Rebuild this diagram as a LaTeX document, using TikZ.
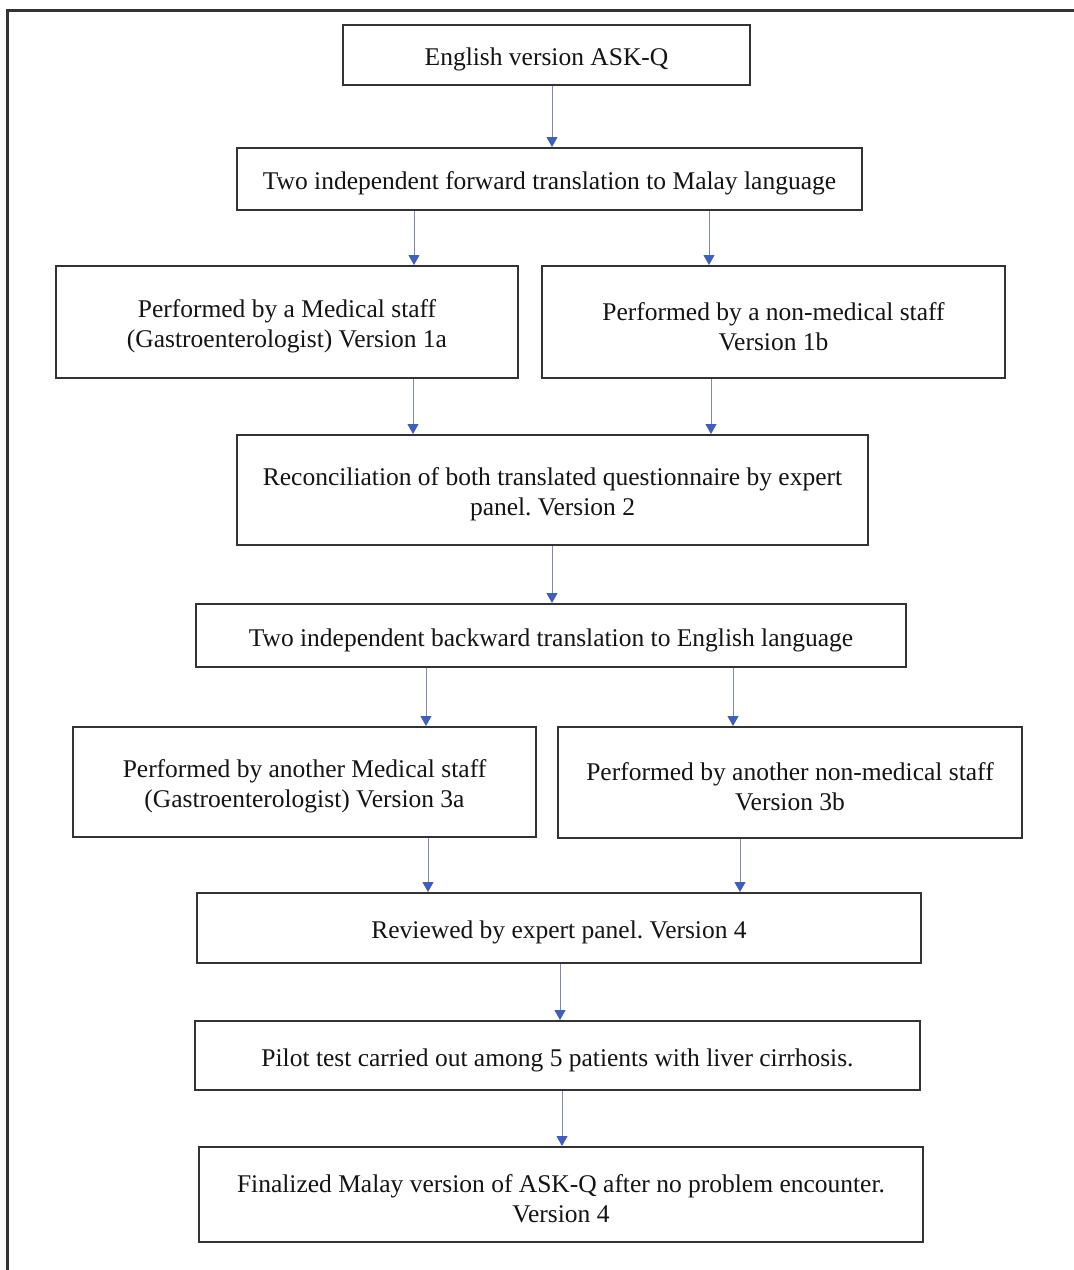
\documentclass[tikz,border=0pt]{standalone}
\usepackage{fontspec}
\setmainfont{Liberation Serif}
\usetikzlibrary{arrows.meta}
\frenchspacing
\definecolor{boxline}{HTML}{333333}
\definecolor{arrline}{HTML}{7F8AA8}
\definecolor{arrtip}{HTML}{3F5FC0}
\begin{document}
\begin{tikzpicture}[x=1pt,y=-1pt,
  flowbox/.style={draw=boxline, line width=2pt, minimum width=#1, inner sep=0pt},
  lab/.style={yshift=-4.5pt, inner sep=0pt, align=center, font=\fontsize{25.5}{30}\selectfont, text=black!92},
  arr/.style={draw=arrline, line width=1pt, -{Triangle[length=10pt,width=11pt,fill=arrtip,color=arrtip]}}]
\useasboundingbox (0,0) rectangle (1074,1270);
\fill[white] (0,0) rectangle (1074,1270);
\draw[boxline, line width=3pt] (7,1300) -- (7,10) -- (1100,10);
\node[flowbox=407pt, minimum height=60pt, label={[lab]center:English version ASK-Q}] (b1) at (546.5,55) {};
\node[flowbox=625pt, minimum height=62pt, label={[lab]center:Two independent forward translation to Malay language}] (b2) at (549.5,179) {};
\node[flowbox=462pt, minimum height=112pt, label={[lab]center:Performed by a Medical staff\\(Gastroenterologist) Version 1a}] (b3) at (287,322) {};
\node[flowbox=463pt, minimum height=112pt, label={[lab]center:Performed by a non-medical staff\\Version 1b}] (b4) at (773.5,322) {};
\node[flowbox=631pt, minimum height=110pt, label={[lab]center:Reconciliation of both translated questionnaire by expert\\panel. Version 2}] (b5) at (552.5,490) {};
\node[flowbox=710pt, minimum height=63pt, label={[lab]center:Two independent backward translation to English language}] (b6) at (551,635.5) {};
\node[flowbox=463pt, minimum height=110pt, label={[lab]center:Performed by another Medical staff\\(Gastroenterologist) Version 3a}] (b7) at (304.5,782) {};
\node[flowbox=464pt, minimum height=111pt, label={[lab]center:Performed by another non-medical staff\\Version 3b}] (b8) at (790,782.5) {};
\node[flowbox=724pt, minimum height=70pt, label={[lab]center:Reviewed by expert panel. Version 4}] (b9) at (559,928) {};
\node[flowbox=725pt, minimum height=69pt, label={[lab]center:Pilot test carried out among 5 patients with liver cirrhosis.}] (b10) at (557.5,1055.5) {};
\node[flowbox=724pt, minimum height=95pt, label={[lab]center:Finalized Malay version of ASK-Q after no problem encounter.\\Version 4}] (b11) at (561,1194.5) {};
\draw[arr] (552,0 |- b1.south) -- (552,0 |- b2.north);
\draw[arr] (414,0 |- b2.south) -- (414,0 |- b3.north);
\draw[arr] (709,0 |- b2.south) -- (709,0 |- b4.north);
\draw[arr] (413,0 |- b3.south) -- (413,0 |- b5.north);
\draw[arr] (711,0 |- b4.south) -- (711,0 |- b5.north);
\draw[arr] (552,0 |- b5.south) -- (552,0 |- b6.north);
\draw[arr] (426,0 |- b6.south) -- (426,0 |- b7.north);
\draw[arr] (733,0 |- b6.south) -- (733,0 |- b8.north);
\draw[arr] (428,0 |- b7.south) -- (428,0 |- b9.north);
\draw[arr] (740,0 |- b8.south) -- (740,0 |- b9.north);
\draw[arr] (560,0 |- b9.south) -- (560,0 |- b10.north);
\draw[arr] (562,0 |- b10.south) -- (562,0 |- b11.north);
\end{tikzpicture}
\end{document}
